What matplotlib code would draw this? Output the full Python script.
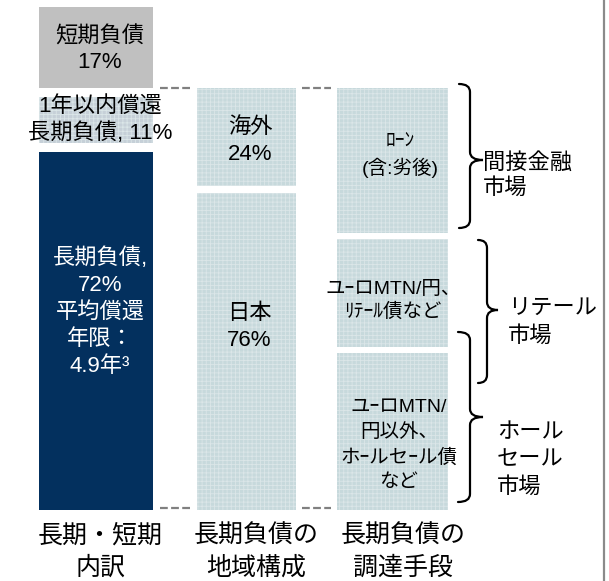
import numpy as np
import matplotlib
matplotlib.use('Agg')
import matplotlib.pyplot as plt
from matplotlib.path import Path
from matplotlib.patches import PathPatch

plt.rcParams['font.family'] = ['Liberation Sans', 'Noto Sans CJK JP']
plt.rcParams['hatch.linewidth'] = 0.6

# breakdown of total debt (percent), bottom to top
term_keys = ['long', 'within_1y', 'short']
term_shares = [72, 11, 17]
# long-term debt by region, bottom to top
region_names = ['日本', '海外']
region_shares = [76, 24]
# long-term debt by funding source, bottom to top (no figures published)
funding_names = ['ユｰロMTN/\n円以外、\nホｰルセｰル債\nなど', 'ユｰロMTN/円、\nﾘﾃｰﾙ債など', 'ﾛｰﾝ\n(含:劣後)']
funding_shares = [38, 27, 35]

column_titles = ['長期・短期\n内訳', '長期負債の\n地域構成', '長期負債の\n調達手段']

NAVY = '#03305e'
GREY = '#c0c0c0'
DOT_BG = '#c7d9dc'
DOT_BG2 = '#c6d0d8'
DOT_LINE = '#dbe6e8'

W, H = 609, 581
fig = plt.figure(figsize=(W / 100, H / 100), dpi=100)

# bars live in percent units: 0 at y=510px, 100 at y=7px
PX_PER_PCT = (510 - 7) / 100
ax = fig.add_axes([0, 0, 1, 1])
ax.set_xlim(0, W)
ax.set_ylim(-(H - 510) / PX_PER_PCT, 510 / PX_PER_PCT)
ax.axis('off')

# pixel-space overlay for labels, braces and connectors
ov = fig.add_axes([0, 0, 1, 1])
ov.set_xlim(0, W)
ov.set_ylim(H, 0)
ov.axis('off')
ov.patch.set_alpha(0)


def stack(x, width, shares, scale, gap, colors, hatches):
    bottoms = np.concatenate([[0], np.cumsum(shares)[:-1]]) * scale
    heights = np.array(shares, dtype=float) * scale
    n = len(shares)
    for i in range(n):
        lo = bottoms[i] + (gap / 2 if i > 0 else 0)
        hi = bottoms[i] + heights[i] - (gap / 2 if i < n - 1 else 0)
        ax.bar(x, hi - lo, bottom=lo, width=width, color=colors[i],
               edgecolor=DOT_LINE if hatches[i] else colors[i],
               linewidth=0, hatch=hatches[i])
    return bottoms, heights


# column 1: long / within one year / short
stack(96, 114, term_shares, 1.0, 1.8,
      [NAVY, DOT_BG2, GREY], [None, '++++', None])

# columns 2 and 3 span the long-term part (below the short-term block)
long_top = sum(term_shares[:2]) + 0.9
stack(246.5, 99, region_shares, long_top / sum(region_shares), 1.4,
      [DOT_BG, DOT_BG], ['++++', '++++'])
stack(392.5, 111, funding_shares, long_top / sum(funding_shares), 1.2,
      [DOT_BG] * 3, ['++++'] * 3)

# dashed connectors between the columns
dash = dict(color='#808080', lw=1.6, ls=(0, (3.5, 1.5)))
for y in (88, 508):
    ov.plot([160, 190], [y, y], **dash)
    ov.plot([302, 331], [y, y], **dash)

# frame line on the right
ov.plot([604, 604], [0, H], color='#8a8a8a', lw=1.6)

# bar labels
ov.text(100, 50, f'短期負債\n{term_shares[2]}%', ha='center', va='center',
        fontsize=16, linespacing=1.3)
ov.text(100, 120, f'1年以内償還\n長期負債, {term_shares[1]}%', ha='center',
        va='center', fontsize=16, linespacing=1.25)
ov.text(100, 312, f'長期負債,\n{term_shares[0]}%\n平均償還\n年限：\n4.9年³',
        ha='center', va='center', fontsize=16, linespacing=1.38, color='white')
ov.text(250, 141, f'{region_names[1]}\n{region_shares[1]}%', ha='center',
        va='center', fontsize=16, linespacing=1.35)
ov.text(249, 327, f'{region_names[0]}\n{region_shares[0]}%', ha='center',
        va='center', fontsize=16, linespacing=1.35)
ov.text(400, 155, funding_names[2], ha='center', va='center',
        fontsize=14, linespacing=1.5)
ov.text(393, 301, funding_names[1], ha='center', va='center',
        fontsize=14, linespacing=1.35)
ov.text(399, 445, funding_names[0], ha='center', va='center',
        fontsize=14, linespacing=1.55)


def brace(x_end, x_spine, x_tip, y_top, y_tip, y_bot, r=8):
    verts = [(x_end, y_top), (x_spine, y_top), (x_spine, y_top + r),
             (x_spine, y_tip - r), (x_spine, y_tip), (x_tip, y_tip),
             (x_spine, y_tip), (x_spine, y_tip + r),
             (x_spine, y_bot - r), (x_spine, y_bot), (x_end, y_bot)]
    codes = [Path.MOVETO, Path.CURVE3, Path.CURVE3,
             Path.LINETO, Path.CURVE3, Path.CURVE3,
             Path.CURVE3, Path.CURVE3,
             Path.LINETO, Path.CURVE3, Path.CURVE3]
    ov.add_patch(PathPatch(Path(verts, codes), fill=False, lw=1.6,
                           edgecolor='black', capstyle='round'))


brace(459, 470, 483, 84, 160, 228)
brace(478, 487, 498, 240, 310, 383)
brace(458, 470, 483, 332, 417, 502)

ov.text(483, 176, '間接金融\n市場', ha='left', va='center', fontsize=16,
        linespacing=1.25)
ov.text(508, 323, 'リテール\n市場', ha='left', va='center', fontsize=16,
        linespacing=1.35)
ov.text(497, 460, 'ホール\nセール\n市場', ha='left', va='center', fontsize=16,
        linespacing=1.38)

for x, title in zip([100, 256, 403], column_titles):
    ov.text(x, 552, title, ha='center', va='center', fontsize=18,
            linespacing=1.42)

fig.savefig('out.png', dpi=100, facecolor='white')
